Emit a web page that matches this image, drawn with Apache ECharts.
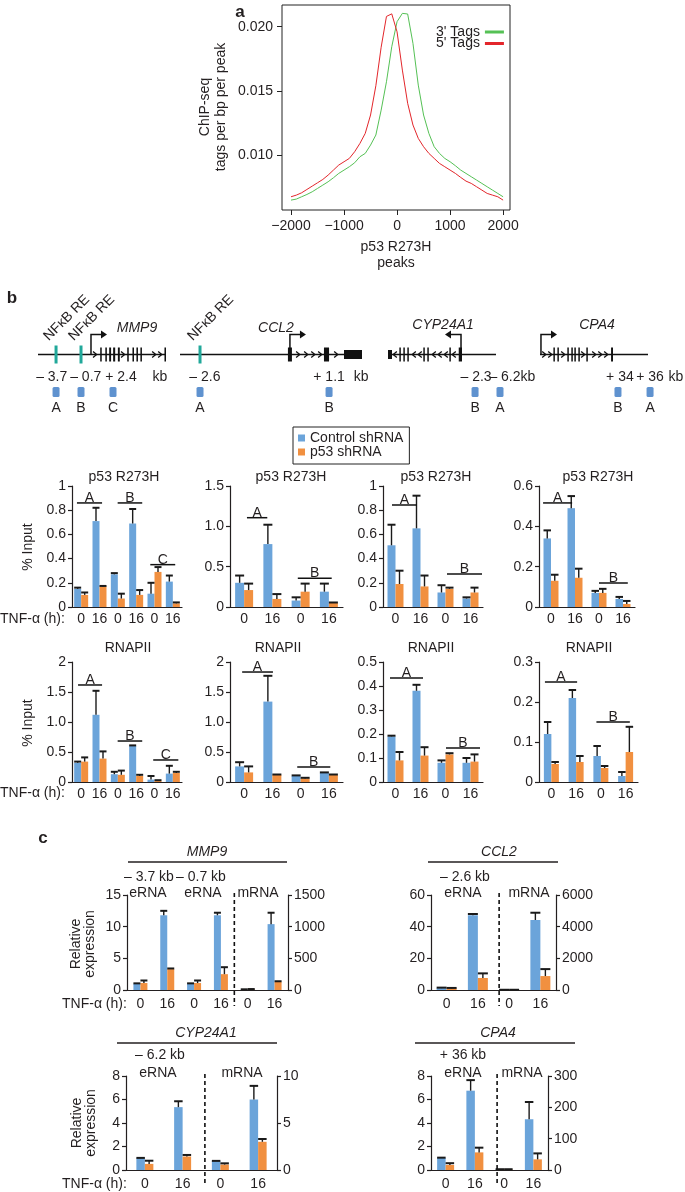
<!DOCTYPE html>
<html><head><meta charset="utf-8">
<script src="https://cdn.jsdelivr.net/npm/echarts@6/dist/echarts.min.js"></script>
<style>html,body{margin:0;padding:0;background:#fff}#c{width:685px;height:1192px}</style>
</head><body><div id="c"></div>
<script>
// ================= DATA =================
// Panel a: tag density around p53 R273H peaks
const tagPos = [-2000,-1900,-1800,-1700,-1600,-1500,-1400,-1300,-1200,-1100,-1000,-900,-800,-700,-600,-500,-400,-300,-200,-100,0,100,200,300,400,500,600,700,800,900,1000,1100,1200,1300,1400,1500,1600,1700,1800,1900,2000];
const tags3 = [0.00649,0.00657,0.00675,0.00693,0.00714,0.00740,0.00766,0.00792,0.00823,0.00857,0.00883,0.00909,0.00940,0.00987,0.01013,0.01078,0.01156,0.01350,0.01571,0.01844,0.02039,0.02104,0.02099,0.01870,0.01545,0.01312,0.01169,0.01065,0.01013,0.00974,0.00948,0.00917,0.00883,0.00857,0.00831,0.00805,0.00779,0.00753,0.00727,0.00701,0.00675];
const tags5 = [0.00675,0.00688,0.00706,0.00732,0.00758,0.00784,0.00810,0.00844,0.00883,0.00922,0.00948,0.00974,0.01026,0.01091,0.01169,0.01312,0.01540,0.01840,0.02080,0.02100,0.01960,0.01662,0.01403,0.01234,0.01130,0.01065,0.01013,0.00974,0.00935,0.00909,0.00883,0.00857,0.00826,0.00797,0.00779,0.00753,0.00727,0.00701,0.00688,0.00675,0.00649];
const aTicksX = [-2000,-1000,0,1000,2000];
const aTicksY = [0.010,0.015,0.020];

// Panel b: gene schematics (positions in relative track units 0-100)
const mmp9Nfkb = [14.1, 33.6];
const mmp9Tss = [41.4, 1];
const mmp9Exons = [[48.6,49.8],[52.6,53.8],[55.6,57.1],[58.7,60.3],[62.4,63.9],[69.7,70.9],[73.8,75.0],[76.9,78.1],[80.0,81.2],[98.8,100]];
const mmp9Utrs = [];
const mmp9Chevrons = [44.4,66.3,90.6,95.3];
const mmp9KbText = ['\u2013 3.7','\u2013 0.7','+ 2.4','kb'];
const mmp9KbPos = [10.7,37.3,64.8,95.3];
const mmp9AmpText = ['A','B','C'];
const mmp9AmpPos = [14.1,33.6,58.6];

const ccl2Nfkb = [11.0];
const ccl2Tss = [60.4, 1];
const ccl2Exons = [[59.3,61.5],[79.1,81.9]];
const ccl2Utrs = [[90.1,100]];
const ccl2Chevrons = [64.8,69.2,73.1,76.9,85.7];
const ccl2KbText = ['\u2013 2.6','+ 1.1','kb'];
const ccl2KbPos = [13.7,81.9,99.5];
const ccl2AmpText = ['A','B'];
const ccl2AmpPos = [11.0,81.9];

const cypNfkb = [];
const cypTss = [67.6, -1];
const cypExons = [[10.5,11.7],[14.2,15.4],[17.9,19.1],[32.7,33.9],[36.4,37.6],[56.8,58.0],[65.5,68.5]];
const cypUtrs = [[0,3.7]];
const cypChevrons = [6.5,24.1,29.6,42.6,48.1,53.7,61.1];
const cypKbText = ['\u2013 2.3','\u2013 6.2','kb'];
const cypKbPos = [81.5,108.3,129.6];
const cypAmpText = ['B','A'];
const cypAmpPos = [80.6,103.7];

const cpa4Nfkb = [];
const cpa4Tss = [0.9, 1];
const cpa4Exons = [[12.4,13.6],[16.1,17.3],[25.3,26.5],[29.0,30.2],[31.8,33.0],[35.5,36.7],[42.9,44.1],[65.8,67.6]];
const cpa4Utrs = [];
const cpa4Chevrons = [3.7,9.3,21.3,39.8,50.0,55.6,61.1];
const cpa4KbText = ['+ 34','+ 36','kb'];
const cpa4KbPos = [74.0,101.9,125.9];
const cpa4AmpText = ['B','A'];
const cpa4AmpPos = [72.2,101.9];

// Panel b: ChIP-qPCR (% input)
const chipCats6 = ['0','16','0','16','0','16'];
const chipCats4 = ['0','16','0','16'];

const p53Mmp9Ctrl = [0.15,0.71,0.27,0.69,0.11,0.21];
const p53Mmp9CtrlSd = [0.01,0.11,0.01,0.12,0.09,0.05];
const p53Mmp9Sh = [0.10,0.17,0.07,0.10,0.29,0.03];
const p53Mmp9ShSd = [0.02,0.004,0.04,0.04,0.04,0.008];
const p53Mmp9Br = [[-0.23,1.14,0.86,'A'],[1.99,3.33,0.86,'B'],[3.77,5.13,0.35,'C']];

const p53Ccl2Ctrl = [0.30,0.78,0.08,0.19];
const p53Ccl2CtrlSd = [0.09,0.24,0.04,0.10];
const p53Ccl2Sh = [0.21,0.10,0.19,0.05];
const p53Ccl2ShSd = [0.08,0.06,0.10,0.006];
const p53Ccl2Br = [[0.1,0.82,1.107,'A'],[1.9,3.1,0.357,'B']];

const p53CypCtrl = [0.51,0.65,0.12,0.07];
const p53CypCtrlSd = [0.17,0.27,0.06,0.01];
const p53CypSh = [0.19,0.17,0.15,0.12];
const p53CypShSd = [0.11,0.09,0.01,0.04];
const p53CypBr = [[-0.14,0.86,0.843,'A'],[2.06,3.46,0.273,'B']];

const p53Cpa4Ctrl = [0.34,0.49,0.07,0.04];
const p53Cpa4CtrlSd = [0.04,0.06,0.01,0.01];
const p53Cpa4Sh = [0.13,0.145,0.07,0.015];
const p53Cpa4ShSd = [0.03,0.045,0.02,0.015];
const p53Cpa4Br = [[-0.33,0.88,0.516,'A'],[2.0,3.2,0.119,'B']];

const polMmp9Ctrl = [0.32,1.12,0.13,0.60,0.04,0.14];
const polMmp9CtrlSd = [0.02,0.40,0.04,0.01,0.06,0.13];
const polMmp9Sh = [0.34,0.39,0.12,0.10,0.02,0.15];
const polMmp9ShSd = [0.07,0.12,0.07,0.02,0.01,0.02];
const polMmp9Br = [[-0.17,1.14,1.617,'A'],[1.99,3.33,0.683,'B'],[3.93,5.3,0.367,'C']];

const polCcl2Ctrl = [0.26,1.34,0.10,0.15];
const polCcl2CtrlSd = [0.07,0.43,0.01,0.01];
const polCcl2Sh = [0.16,0.12,0.06,0.12];
const polCcl2ShSd = [0.10,0.005,0.01,0.005];
const polCcl2Br = [[-0.07,1.02,1.833,'A'],[1.88,3.05,0.25,'B']];

const polCypCtrl = [0.19,0.38,0.08,0.08];
const polCypCtrlSd = [0.003,0.025,0.01,0.02];
const polCypSh = [0.09,0.11,0.115,0.085];
const polCypShSd = [0.035,0.035,0.005,0.03];
const polCypBr = [[-0.22,1.1,0.433,'A'],[2.02,3.38,0.142,'B']];

const polCpa4Ctrl = [0.12,0.21,0.065,0.015];
const polCpa4CtrlSd = [0.03,0.02,0.025,0.01];
const polCpa4Sh = [0.045,0.05,0.035,0.075];
const polCpa4ShSd = [0.005,0.015,0.005,0.063];
const polCpa4Br = [[-0.26,1.04,0.25,'A'],[1.82,3.17,0.15,'B']];

const ticksTo1 = ['0','0.2','0.4','0.6','0.8','1'];
const ticksTo15 = ['0','0.5','1.0','1.5'];
const ticksTo06 = ['0','0.2','0.4','0.6'];
const ticksTo2 = ['0','0.5','1.0','1.5','2'];
const ticksTo05 = ['0','0.1','0.2','0.3','0.4','0.5'];
const ticksTo03 = ['0','0.1','0.2','0.3'];

// Panel c: relative expression (eRNA on left axis, mRNA on right axis)
const expCats6 = ['0','16','0','16','0','16'];
const expCats4 = ['0','16','0','16'];

const mmp9ECtrl = [1.0,11.8,1.0,11.8];
const mmp9ECtrlSd = [0.05,0.7,0.05,0.4];
const mmp9ESh = [1.1,3.3,1.1,2.5];
const mmp9EShSd = [0.4,0.1,0.4,1.1];
const mmp9MCtrl = [8,1040];
const mmp9MCtrlSd = [3,180];
const mmp9MSh = [12,130];
const mmp9MShSd = [3,8];

const ccl2ECtrl = [1.2,47.2];
const ccl2ECtrlSd = [0.3,0.8];
const ccl2ESh = [1.0,7.6];
const ccl2EShSd = [0.3,2.9];
const ccl2MCtrl = [10,4420];
const ccl2MCtrlSd = [5,460];
const ccl2MSh = [10,880];
const ccl2MShSd = [5,440];

const cypECtrl = [1.0,5.35];
const cypECtrlSd = [0.03,0.5];
const cypESh = [0.52,1.15];
const cypEShSd = [0.27,0.13];
const cypMCtrl = [0.95,7.5];
const cypMCtrlSd = [0.02,1.45];
const cypMSh = [0.58,3.0];
const cypMShSd = [0.13,0.3];

const cpa4ECtrl = [1.03,6.75];
const cpa4ECtrlSd = [0.02,0.9];
const cpa4ESh = [0.43,1.5];
const cpa4EShSd = [0.15,0.4];
const cpa4MCtrl = [2,162];
const cpa4MCtrlSd = [0.5,55];
const cpa4MSh = [2,34];
const cpa4MShSd = [0.5,19];

// ================= STYLE =================
const FONT = "'Liberation Sans', Arial, Helvetica, sans-serif";
const TXT = '#231f20';
const AXIS = '#231f20';
const BLUE = '#6ba4da';
const ORANGE = '#f19040';
const ERR = '#1a1a1a';
const TEAL = '#21a89a';
const AMP = '#5f92cf';
const GREEN = '#55c155';
const RED = '#e3262b';
const LINE_Y = 354.5;

const grids = [], xAxes = [], yAxes = [], series = [], graphics = [];
function addGrid(g){ grids.push(Object.assign({containLabel:false, outerBoundsMode:'none'}, g)); return grids.length - 1; }
function txtStyle(text, x, y, o){
  o = o || {};
  const al = o.align || 'center', va = o.va || 'middle';
  return {text:text, x:x, y:y, align:al, verticalAlign:va, textAlign:al, textVerticalAlign:va,
    fontSize:o.size || 14, fontFamily:FONT, fontStyle:o.italic ? 'italic' : 'normal',
    fontWeight:o.bold ? 'bold' : 'normal', fill:TXT};
}
function gText(text, x, y, o){
  o = o || {};
  const el = {type:'text', x:x, y:y, silent:true, style:txtStyle(text, 0, 0, o)};
  if (o.rot) el.rotation = o.rot;
  graphics.push(el);
}
function gLine(x1, y1, x2, y2){
  graphics.push({type:'line', silent:true, shape:{x1:x1,y1:y1,x2:x2,y2:y2}, style:{stroke:AXIS, lineWidth:1.5}});
}

// ================= PANEL A =================
{
  const gi = addGrid({left:282, top:5, width:228, height:205, show:true, borderColor:'#222', borderWidth:1, backgroundColor:'transparent'});
  const xi = xAxes.length;
  xAxes.push({type:'value', gridIndex:gi, position:'bottom', min:-2170, max:2130, axisLine:{show:false, onZero:false}, splitLine:{show:false},
    axisTick:{show:true, length:5, lineStyle:{color:'#222'}, customValues:aTicksX},
    axisLabel:{customValues:aTicksX, fontSize:14, color:TXT, fontFamily:FONT, margin:9,
      formatter:v => (v < 0 ? '\u2212' + Math.abs(v) : String(v))}});
  const yi = yAxes.length;
  yAxes.push({type:'value', gridIndex:gi, position:'left', min:0.00572, max:0.02169, axisLine:{show:false, onZero:false}, splitLine:{show:false},
    axisTick:{show:true, length:5, lineStyle:{color:'#222'}, customValues:aTicksY},
    axisLabel:{customValues:aTicksY, fontSize:14, color:TXT, fontFamily:FONT, margin:9, formatter:v => v.toFixed(3)}});
  series.push({type:'line', name:"3' Tags", xAxisIndex:xi, yAxisIndex:yi, data:tagPos.map((x,i)=>[x,tags3[i]]),
    symbol:'none', showSymbol:false, lineStyle:{color:GREEN, width:1}, itemStyle:{color:GREEN}, silent:true});
  series.push({type:'line', name:"5' Tags", xAxisIndex:xi, yAxisIndex:yi, data:tagPos.map((x,i)=>[x,tags5[i]]),
    symbol:'none', showSymbol:false, lineStyle:{color:RED, width:1}, itemStyle:{color:RED}, silent:true});
  gText('a', 240, 12, {bold:true, size:17});
  gText('ChIP-seq', 205, 107, {rot:Math.PI/2});
  gText('tags per bp per peak', 221, 107, {rot:Math.PI/2});
  gText('p53 R273H', 396, 247);
  gText('peaks', 396, 263);
}

// ================= PANEL B: genes =================
function addGene(d){
  const gi = addGrid({left:d.left, width:d.width, top:LINE_Y - 10, height:20});
  const xi = xAxes.length; xAxes.push({type:'value', gridIndex:gi, min:0, max:100, show:false});
  const yi = yAxes.length; yAxes.push({type:'value', gridIndex:gi, min:0, max:1, show:false});
  const feats = [{k:'track', a:0}];
  d.utrs.forEach(e => feats.push({k:'utr', a:e[0], b:e[1]}));
  d.exons.forEach(e => feats.push({k:'exon', a:e[0], b:e[1]}));
  d.chev.forEach(p => feats.push({k:'chev', a:p, dir:d.tss[1]}));
  d.nfkb.forEach(p => feats.push({k:'nfkb', a:p}));
  feats.push({k:'tss', a:d.tss[0], dir:d.tss[1]});
  d.kbPos.forEach((p,i) => feats.push({k:'kb', a:p, t:d.kbText[i]}));
  d.ampPos.forEach((p,i) => feats.push({k:'amp', a:p, t:d.ampText[i]}));
  feats.push({k:'name', a:d.namePos, t:d.name, dy:d.nameDy});
  series.push({type:'custom', xAxisIndex:xi, yAxisIndex:yi, clip:false, silent:true, z:3,
    data:feats.map(f => [f.a, 0.5]),
    renderItem:function(params, api){
      const f = feats[params.dataIndex];
      const X = u => api.coord([u, 0.5])[0];
      const y = api.coord([0, 0.5])[1];
      const x = X(f.a);
      switch (f.k) {
        case 'track': return {type:'line', shape:{x1:X(0), y1:y, x2:X(100), y2:y}, style:{stroke:'#111', lineWidth:1.5}};
        case 'utr': return {type:'rect', shape:{x:x, y:y-4.5, width:X(f.b)-x, height:9}, style:{fill:'#111'}};
        case 'exon': return {type:'rect', shape:{x:x, y:y-7, width:Math.max(X(f.b)-x,1.5), height:14}, style:{fill:'#111'}};
        case 'chev': return {type:'polyline', shape:{points:[[x-1.8*f.dir,y-3],[x+1.8*f.dir,y],[x-1.8*f.dir,y+3]]}, style:{stroke:'#111', lineWidth:1.3, fill:null}};
        case 'nfkb': return {type:'group', children:[
          {type:'rect', shape:{x:x-1.5, y:y-9, width:3, height:18}, style:{fill:TEAL}},
          {type:'text', x:x-5, y:y-11, rotation:Math.PI/4, style:txtStyle('NF\u03baB RE', 0, 0, {align:'left', va:'bottom'})}]};
        case 'tss': { const dd = f.dir; return {type:'group', children:[
          {type:'polyline', shape:{points:[[x,y],[x,y-20],[x+dd*11,y-20]]}, style:{stroke:'#111', lineWidth:1.5, fill:null}},
          {type:'polygon', shape:{points:[[x+dd*10,y-24],[x+dd*16,y-20],[x+dd*10,y-16]]}, style:{fill:'#111'}}]}; }
        case 'kb': return {type:'text', style:txtStyle(f.t, x, y+23)};
        case 'amp': return {type:'group', children:[
          {type:'rect', shape:{x:x-3.5, y:y-0.5+33, width:7, height:10, r:1.5}, style:{fill:AMP}},
          {type:'text', style:txtStyle(f.t, x, y+54)}]};
        case 'name': return {type:'text', style:txtStyle(f.t, x, y+f.dy, {italic:true})};
      }
      return null;
    }});
}
addGene({left:38, width:128, nfkb:mmp9Nfkb, tss:mmp9Tss, exons:mmp9Exons, utrs:mmp9Utrs, chev:mmp9Chevrons,
  kbText:mmp9KbText, kbPos:mmp9KbPos, ampText:mmp9AmpText, ampPos:mmp9AmpPos, name:'MMP9', namePos:77.3, nameDy:-26});
addGene({left:180, width:182, nfkb:ccl2Nfkb, tss:ccl2Tss, exons:ccl2Exons, utrs:ccl2Utrs, chev:ccl2Chevrons,
  kbText:ccl2KbText, kbPos:ccl2KbPos, ampText:ccl2AmpText, ampPos:ccl2AmpPos, name:'CCL2', namePos:52.7, nameDy:-26});
addGene({left:388, width:108, nfkb:cypNfkb, tss:cypTss, exons:cypExons, utrs:cypUtrs, chev:cypChevrons,
  kbText:cypKbText, kbPos:cypKbPos, ampText:cypAmpText, ampPos:cypAmpPos, name:'CYP24A1', namePos:51, nameDy:-29});
addGene({left:540, width:108, nfkb:cpa4Nfkb, tss:cpa4Tss, exons:cpa4Exons, utrs:cpa4Utrs, chev:cpa4Chevrons,
  kbText:cpa4KbText, kbPos:cpa4KbPos, ampText:cpa4AmpText, ampPos:cpa4AmpPos, name:'CPA4', namePos:52.8, nameDy:-29});
gText('b', 12, 298, {bold:true, size:17});

// ================= helpers for bar panels =================
function barSeries(name, xi, yi, data, color, bw){
  return {type:'bar', name:name, xAxisIndex:xi, yAxisIndex:yi, data:data, barWidth:bw, barGap:'0%', silent:true,
    itemStyle:{color:color}, z:2};
}
function errSeries(xi, yi, vals, sds, off, cap, start){
  return {type:'custom', xAxisIndex:xi, yAxisIndex:yi, clip:false, silent:true, z:5,
    data:vals.map((v,i) => [i + start, v, sds[i]]), encode:{x:0, y:1},
    renderItem:function(params, api){
      const i = api.value(0), v = api.value(1), s = api.value(2);
      const b = api.coord([i, v]), t = api.coord([i, v + s]);
      const x = b[0] + off;
      return {type:'group', children:[
        {type:'line', shape:{x1:x, y1:b[1], x2:x, y2:t[1]}, style:{stroke:ERR, lineWidth:1.4}},
        {type:'line', shape:{x1:x-cap/2, y1:t[1], x2:x+cap/2, y2:t[1]}, style:{stroke:ERR, lineWidth:2}}]};
    }};
}
function bracketSeries(xi, yi, br){
  return {type:'custom', xAxisIndex:xi, yAxisIndex:yi, clip:false, silent:true, z:6,
    data:br.map(b => [0, b[2]]),
    renderItem:function(params, api){
      const b = br[params.dataIndex];
      const c0 = api.coord([0, b[2]]), c1 = api.coord([1, b[2]]);
      const band = c1[0] - c0[0];
      const x1 = c0[0] + b[0]*band, x2 = c0[0] + b[1]*band, y = c0[1];
      return {type:'group', children:[
        {type:'line', shape:{x1:x1, y1:y, x2:x2, y2:y}, style:{stroke:'#111', lineWidth:1.5}},
        {type:'text', style:txtStyle(b[3], (x1+x2)/2, y+2, {va:'bottom'})}]};
    }};
}
function valueAxis(gi, max, step, labels, pos){
  return {type:'value', gridIndex:gi, position:pos || 'left', min:0, max:max, interval:step,
    axisLine:{show:true, onZero:false, lineStyle:{color:AXIS, width:1.2}},
    axisTick:{show:true, length:4, lineStyle:{color:AXIS, width:1.2}}, splitLine:{show:false},
    axisLabel:{fontSize:14, color:TXT, fontFamily:FONT, margin:6,
      formatter: labels ? (v => labels[Math.round(v/step)]) : (v => String(Math.round(v)))}};
}
function catAxis(gi, cats, margin, show){
  return {type:'category', gridIndex:gi, data:cats, boundaryGap:true, show:show !== false,
    axisLine:{show:true, lineStyle:{color:AXIS, width:1.2}}, axisTick:{show:false},
    axisLabel:{interval:0, fontSize:14, color:TXT, fontFamily:FONT, margin:margin}};
}
function chipPanel(d){
  const gi = addGrid({left:d.left, top:d.top, width:d.width, height:d.height});
  const xi = xAxes.length; xAxes.push(catAxis(gi, d.cats, 5));
  const yi = yAxes.length; yAxes.push(valueAxis(gi, d.max, d.step, d.labels));
  series.push(barSeries('Control shRNA', xi, yi, d.ctrl, BLUE, d.bw));
  series.push(barSeries('p53 shRNA', xi, yi, d.sh, ORANGE, d.bw));
  series.push(errSeries(xi, yi, d.ctrl, d.ctrlSd, -d.bw/2, d.bw, 0));
  series.push(errSeries(xi, yi, d.sh, d.shSd, d.bw/2, d.bw, 0));
  series.push(bracketSeries(xi, yi, d.br));
  gText(d.title, d.titleX, d.titleY);
}

// Row 1: p53 R273H
chipPanel({left:72, top:486, width:110, height:121, max:1, step:0.2, labels:ticksTo1, cats:chipCats6, bw:7,
  ctrl:p53Mmp9Ctrl, ctrlSd:p53Mmp9CtrlSd, sh:p53Mmp9Sh, shSd:p53Mmp9ShSd, br:p53Mmp9Br, title:'p53 R273H', titleX:124, titleY:477});
chipPanel({left:230, top:486, width:113, height:121, max:1.5, step:0.5, labels:ticksTo15, cats:chipCats4, bw:9,
  ctrl:p53Ccl2Ctrl, ctrlSd:p53Ccl2CtrlSd, sh:p53Ccl2Sh, shSd:p53Ccl2ShSd, br:p53Ccl2Br, title:'p53 R273H', titleX:291, titleY:477});
chipPanel({left:383, top:486, width:100, height:121, max:1, step:0.2, labels:ticksTo1, cats:chipCats4, bw:8,
  ctrl:p53CypCtrl, ctrlSd:p53CypCtrlSd, sh:p53CypSh, shSd:p53CypShSd, br:p53CypBr, title:'p53 R273H', titleX:436, titleY:477});
chipPanel({left:539, top:486, width:96, height:121, max:0.6, step:0.2, labels:ticksTo06, cats:chipCats4, bw:7.5,
  ctrl:p53Cpa4Ctrl, ctrlSd:p53Cpa4CtrlSd, sh:p53Cpa4Sh, shSd:p53Cpa4ShSd, br:p53Cpa4Br, title:'p53 R273H', titleX:598, titleY:477});
// Row 2: RNAPII
chipPanel({left:72, top:662, width:110, height:120, max:2, step:0.5, labels:ticksTo2, cats:chipCats6, bw:7,
  ctrl:polMmp9Ctrl, ctrlSd:polMmp9CtrlSd, sh:polMmp9Sh, shSd:polMmp9ShSd, br:polMmp9Br, title:'RNAPII', titleX:128, titleY:648});
chipPanel({left:230, top:662, width:113, height:120, max:2, step:0.5, labels:ticksTo2, cats:chipCats4, bw:9,
  ctrl:polCcl2Ctrl, ctrlSd:polCcl2CtrlSd, sh:polCcl2Sh, shSd:polCcl2ShSd, br:polCcl2Br, title:'RNAPII', titleX:278, titleY:648});
chipPanel({left:383, top:662, width:100, height:120, max:0.5, step:0.1, labels:ticksTo05, cats:chipCats4, bw:8,
  ctrl:polCypCtrl, ctrlSd:polCypCtrlSd, sh:polCypSh, shSd:polCypShSd, br:polCypBr, title:'RNAPII', titleX:431, titleY:648});
chipPanel({left:539, top:662, width:99, height:120, max:0.3, step:0.1, labels:ticksTo03, cats:chipCats4, bw:7.5,
  ctrl:polCpa4Ctrl, ctrlSd:polCpa4CtrlSd, sh:polCpa4Sh, shSd:polCpa4ShSd, br:polCpa4Br, title:'RNAPII', titleX:589, titleY:648});
gText('% Input', 28, 547, {rot:Math.PI/2});
gText('% Input', 28, 723, {rot:Math.PI/2});
gText('TNF-\u03b1 (h):', 0, 619, {align:'left'});
gText('TNF-\u03b1 (h):', 0, 793, {align:'left'});

// ================= PANEL C =================
function expPanel(d){
  const gi = addGrid({left:d.left, top:d.top, width:d.width, height:d.height});
  const xi = xAxes.length; xAxes.push(catAxis(gi, d.cats, 7));
  const xi2 = xAxes.length; xAxes.push(catAxis(gi, d.cats, 7, false));
  const yi = yAxes.length; yAxes.push(valueAxis(gi, d.lmax, d.lstep, null, 'left'));
  const yi2 = yAxes.length; yAxes.push(valueAxis(gi, d.rmax, d.rstep, null, 'right'));
  const k = d.eCtrl.length;
  const pad = arr => Array(k).fill('-').concat(arr);
  series.push(barSeries('Control shRNA', xi, yi, d.eCtrl, BLUE, d.bw));
  series.push(barSeries('p53 shRNA', xi, yi, d.eSh, ORANGE, d.bw));
  series.push(barSeries('Control shRNA', xi2, yi2, pad(d.mCtrl), BLUE, d.bw));
  series.push(barSeries('p53 shRNA', xi2, yi2, pad(d.mSh), ORANGE, d.bw));
  series.push(errSeries(xi, yi, d.eCtrl, d.eCtrlSd, -d.bw/2, d.bw, 0));
  series.push(errSeries(xi, yi, d.eSh, d.eShSd, d.bw/2, d.bw, 0));
  series.push(errSeries(xi2, yi2, d.mCtrl, d.mCtrlSd, -d.bw/2, d.bw, k));
  series.push(errSeries(xi2, yi2, d.mSh, d.mShSd, d.bw/2, d.bw, k));
  const lmax = d.lmax;
  series.push({type:'custom', xAxisIndex:xi, yAxisIndex:yi, clip:false, silent:true, z:6, data:[[0, 0]],
    renderItem:function(params, api){
      const c0 = api.coord([0, 0]), c1 = api.coord([1, 0]), top = api.coord([0, lmax])[1];
      const x = c0[0] + d.dashAt*(c1[0]-c0[0]);
      return {type:'line', shape:{x1:x, y1:top-2, x2:x, y2:c0[1]+16}, style:{stroke:'#111', lineWidth:1.6, lineDash:[4,3]}};
    }});
}
expPanel({left:127, top:895, width:161, height:95, cats:expCats6, lmax:15, lstep:5, rmax:1500, rstep:500, bw:7, dashAt:3.5,
  eCtrl:mmp9ECtrl, eCtrlSd:mmp9ECtrlSd, eSh:mmp9ESh, eShSd:mmp9EShSd, mCtrl:mmp9MCtrl, mCtrlSd:mmp9MCtrlSd, mSh:mmp9MSh, mShSd:mmp9MShSd});
expPanel({left:431, top:895, width:125, height:95, cats:expCats4, lmax:60, lstep:20, rmax:6000, rstep:2000, bw:10, dashAt:1.68,
  eCtrl:ccl2ECtrl, eCtrlSd:ccl2ECtrlSd, eSh:ccl2ESh, eShSd:ccl2EShSd, mCtrl:ccl2MCtrl, mCtrlSd:ccl2MCtrlSd, mSh:ccl2MSh, mShSd:ccl2MShSd});
expPanel({left:126, top:1076, width:151, height:94, cats:expCats4, lmax:8, lstep:2, rmax:10, rstep:5, bw:8.5, dashAt:1.59,
  eCtrl:cypECtrl, eCtrlSd:cypECtrlSd, eSh:cypESh, eShSd:cypEShSd, mCtrl:cypMCtrl, mCtrlSd:cypMCtrlSd, mSh:cypMSh, mShSd:cypMShSd});
expPanel({left:431, top:1076, width:117, height:94, cats:expCats4, lmax:8, lstep:2, rmax:300, rstep:100, bw:8.5, dashAt:1.76,
  eCtrl:cpa4ECtrl, eCtrlSd:cpa4ECtrlSd, eSh:cpa4ESh, eShSd:cpa4EShSd, mCtrl:cpa4MCtrl, mCtrlSd:cpa4MCtrlSd, mSh:cpa4MSh, mShSd:cpa4MShSd});

gText('c', 43, 838, {bold:true, size:17});
// MMP9 header
gText('MMP9', 207, 852, {italic:true}); gLine(128, 862, 287, 862);
gText('\u2013 3.7 kb', 149, 877); gText('\u2013 0.7 kb', 201, 877);
gText('eRNA', 148, 893); gText('eRNA', 203, 893); gText('mRNA', 258, 893);
// CCL2 header
gText('CCL2', 499, 852, {italic:true}); gLine(428, 862, 558, 862);
gText('\u2013 2.6 kb', 465, 877);
gText('eRNA', 463, 893); gText('mRNA', 529, 893);
// CYP24A1 header
gText('CYP24A1', 206, 1033, {italic:true}); gLine(117, 1043, 277, 1043);
gText('\u2013 6.2 kb', 160, 1055);
gText('eRNA', 158, 1073); gText('mRNA', 242, 1073);
// CPA4 header
gText('CPA4', 498, 1033, {italic:true}); gLine(415, 1043, 575, 1043);
gText('+ 36 kb', 463, 1055);
gText('eRNA', 463, 1073); gText('mRNA', 522, 1073);

gText('Relative', 76, 944, {rot:Math.PI/2}); gText('expression', 90, 944, {rot:Math.PI/2});
gText('Relative', 77, 1123, {rot:Math.PI/2}); gText('expression', 91, 1123, {rot:Math.PI/2});
gText('TNF-\u03b1 (h):', 62, 1004, {align:'left'});
gText('TNF-\u03b1 (h):', 62, 1184, {align:'left'});

// ================= CHART =================
const chart = echarts.init(document.getElementById('c'), null, {renderer:'canvas', width:685, height:1192});
chart.setOption({
  animation:false,
  backgroundColor:'#ffffff',
  textStyle:{fontFamily:FONT},
  grid:grids, xAxis:xAxes, yAxis:yAxes, series:series,
  legend:[
    {data:["3' Tags","5' Tags"], orient:'vertical', align:'right', left:436, top:25, padding:0, itemGap:-2.5,
      itemWidth:19, itemHeight:3, icon:'rect', selectedMode:false,
      textStyle:{fontSize:14, lineHeight:14, color:TXT, fontFamily:FONT}},
    {data:['Control shRNA','p53 shRNA'], orient:'vertical', left:293, top:427, padding:[4,6,5,5], itemGap:0,
      itemWidth:7, itemHeight:7, icon:'rect', selectedMode:false, borderColor:'#222', borderWidth:1,
      textStyle:{fontSize:14, lineHeight:14, color:TXT, fontFamily:FONT}}
  ],
  graphic:{elements:graphics}
});
</script></body></html>
